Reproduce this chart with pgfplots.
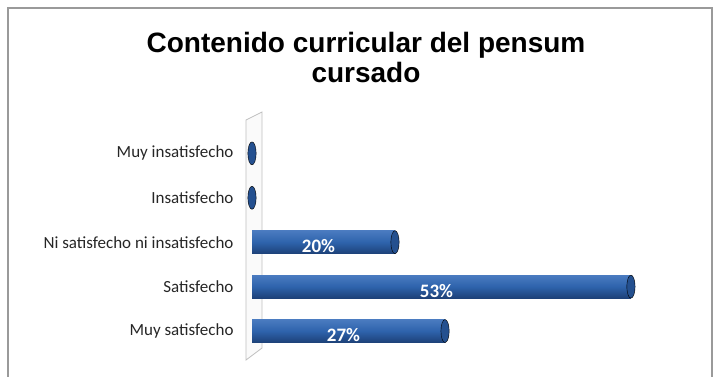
\documentclass[border=0pt]{standalone}
\usepackage{fontspec}
\setmainfont{Carlito}
\newfontfamily\titlefont{Liberation Sans}
\usepackage{pgfplots}
\usepackage{pgfplotstable}
\pgfplotsset{compat=1.18}
\definecolor{barmain}{HTML}{2E63AC}
\definecolor{barlight}{HTML}{4A7BC0}
\definecolor{bardark}{HTML}{1D4178}
\definecolor{capblue}{HTML}{24508F}
\definecolor{framegray}{HTML}{9A9A9A}

% y: category position (0 = top), v: percentage
\pgfplotstableread{
y v
0 0
1 0
2 20
3 53
4 27
}\satdata

\begin{document}
\begin{tikzpicture}
\path[use as bounding box] (0pt,0pt) rectangle (720pt,377pt);
\draw[framegray, line width=1.2pt] (8pt,0pt) -- (8pt,369pt) -- (712pt,369pt) -- (712pt,0pt);
\node[font=\titlefont\bfseries\fontsize{28}{30}\selectfont, align=center] at (366pt,320pt)
  {Contenido curricular del pensum\\cursado};
% 3d wall behind the bars
\draw[gray!50, line width=0.8pt, fill=gray!4] (246pt,17pt) -- (246pt,257pt) -- (262pt,265pt) -- (262pt,29pt) -- cycle;
\begin{axis}[
  at={(252pt,19.3pt)}, anchor=south west,
  scale only axis, width=429pt, height=231pt,
  xmin=0, xmax=60, ymin=-0.6, ymax=4.6,
  y dir=reverse, clip=false,
  axis line style={draw=none}, tick style={draw=none},
  xtick=\empty,
  ytick={0,...,4},
  yticklabels={Muy insatisfecho,Insatisfecho,Ni satisfecho ni insatisfecho,Satisfecho,Muy satisfecho},
  yticklabel style={font=\fontsize{17}{20}\selectfont, text=black!85, xshift=-15pt},
]
\pgfplotsinvokeforeach{2,3,4}{
\addplot[xbar, bar shift=0pt, bar width=23pt, draw=none,
  top color=barlight, bottom color=bardark, middle color=barmain,
  restrict y to domain=#1:#1]
  table[x=v, y=y] {\satdata};
}
\addplot[only marks, mark=*, mark size=11.5pt,
  mark options={xscale=0.36, fill=capblue, draw=none}]
  table[x=v, y=y] {\satdata};
\addplot[only marks, mark=none, restrict x to domain=1:100,
  point meta=\thisrow{v},
  nodes near coords={\bfseries\pgfmathprintnumber[assume math mode=true]{\pgfplotspointmeta}\%},
  nodes near coords align={center},
  every node near coord/.append style={font=\fontsize{19}{20}\selectfont, text=white, xshift=-5pt, yshift=-4pt}]
  table[x expr=\thisrow{v}/2, y=y] {\satdata};
\end{axis}
\end{tikzpicture}
\end{document}
